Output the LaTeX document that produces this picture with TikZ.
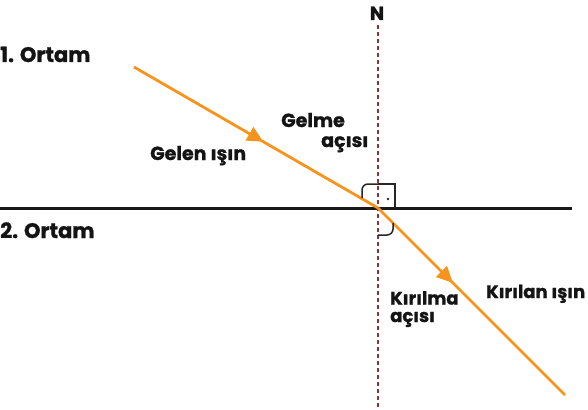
\documentclass[tikz,border=0pt]{standalone}
\usepackage{fontspec}
\setmainfont{Poppins}[BoldFeatures={FakeBold=1.2}]
\usetikzlibrary{arrows.meta,decorations.markings}
\definecolor{ray}{HTML}{F7941D}
\definecolor{normalc}{HTML}{8B3434}
\tikzset{
  lbl/.style={font=\bfseries\fontsize{#1}{17.5}\selectfont, inner sep=0pt, anchor=base west, text=black!92},
  raypath/.style={draw=ray, line width=2.8pt},
  midarrow/.style={postaction={decorate, decoration={markings, mark=at position #1 with {\arrow{Triangle[length=16pt,width=15pt]}}}}},
  markline/.style={line width=1.5pt, draw=black!85},
}
\begin{document}
\begin{tikzpicture}[x=1pt,y=-1pt]
\useasboundingbox (0,0) rectangle (588,409);
% coordinates
\coordinate (O) at (378,208);
\coordinate (A) at (134,67);
\coordinate (B) at (565,395);
\coordinate (Ntop) at (378,25);
\coordinate (Nbot) at (378,409);
\coordinate (Sl) at (0,208);
\coordinate (Sr) at (572,208);
% surface
\draw[line width=3pt, black!90] (Sl) -- (Sr);
% normal
\draw[normalc, line width=2.6pt, dash pattern=on 4pt off 3pt] (Ntop) -- (Nbot);
\node[lbl=19, anchor=base] (N) at (377,20) {N};
% rays
\draw[raypath, midarrow=0.53, ray] (A) -- (O);
\draw[raypath, midarrow=0.40, ray] (O) -- (B);
% angle marks
\draw[markline] (362,198) -- (362,190) arc[start angle=180, end angle=270, radius=6] -- (378,184);
\draw[markline] (378,184) -- (395,184) -- (395,208);
\fill[black!85] (388,199) circle (1.4);
\draw[markline] (393,223) -- (393,229) arc[start angle=0, end angle=90, radius=6] -- (378,235);
% labels
\node[lbl=21] (o1) at (0,62) {1. Ortam};
\node[lbl=21] (o2) at (0,238) {2. Ortam};
\node[lbl=19] (gi) at (150,160) {Gelen ışın};
\node[lbl=19] (ga1) at (281,127) {Gelme};
\node[lbl=19] (ga2) at (321,147) {açısı};
\node[lbl=18, align=left, anchor=north west] (ka) at (390,291) {Kırılma\\açısı};
\node[lbl=18] (ki) at (486,298) {Kırılan ışın};
\end{tikzpicture}
\end{document}
